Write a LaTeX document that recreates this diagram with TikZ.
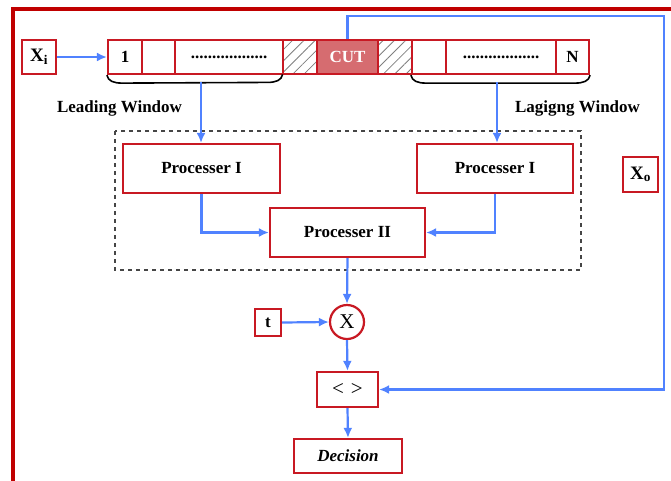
\documentclass[tikz,border=0pt]{standalone}
\usepackage{fontspec}
\setmainfont{Liberation Serif}
\usetikzlibrary{arrows.meta,patterns.meta,calc}
\definecolor{boxred}{RGB}{200,25,35}
\definecolor{framered}{RGB}{192,0,0}
\definecolor{arrblue}{RGB}{80,130,255}
\definecolor{cutfill}{RGB}{214,108,112}
\definecolor{dashgray}{RGB}{70,70,70}
\begin{document}
\begin{tikzpicture}[x=1pt,y=-1pt,
  box/.style={draw=boxred,line width=2.2pt,fill=white,inner sep=0pt,
    font=\bfseries\fontsize{17}{19}\selectfont},
  cell/.style={box,minimum height=34pt},
  hatch/.style={draw=boxred,line width=2.2pt,inner sep=0pt,minimum height=34pt,minimum width=34pt,
    pattern={Lines[angle=45,distance=8pt,line width=0.8pt]},pattern color=gray},
  arr/.style={draw=arrblue,line width=2.2pt,-{Latex[length=10pt,width=9pt]}},
  brace/.style={draw=black,line width=1.6pt},
  lbl/.style={font=\bfseries\fontsize{17}{19}\selectfont,inner sep=0pt},
  dashbox/.style={draw=dashgray,line width=2pt,dash pattern=on 4pt off 4pt}]
\useasboundingbox[fill=white] (0,0) rectangle (671,480);
% outer frame
\draw[framered,line width=4pt] (13,482) -- (13,9) -- (673,9);
% input
\node[box,minimum width=34pt,minimum height=34pt] (xi) at (39,57) {\fontsize{19}{21}\selectfont X\textsubscript{i}};
% array cells
\node[cell,minimum width=34pt] (c1) at (125,57) {1};
\node[cell,minimum width=33pt] (c2) at (158.5,57) {};
\node[cell,minimum width=108pt] (c3) at (229,57) {..................};
\node[hatch] (h1) at (300,57) {};
\node[cell,minimum width=61pt,fill=cutfill,text=white] (cut) at (347.5,57) {CUT};
\node[hatch] (h2) at (395,57) {};
\node[cell,minimum width=34pt] (c4) at (429,57) {};
\node[cell,minimum width=110pt] (c5) at (501,57) {..................};
\node[cell,minimum width=33pt] (cN) at (572.5,57) {N};
\draw[arr] (xi.east) -- (c1.west);
% braces
\draw[brace] (c1.south west) .. controls +(1,6) and +(-8,0) .. ($(c1.south west)+(15,8)$)
  -- ($(h1.south west)+(-15,8)$) .. controls +(8,0) and +(-1,6) .. (h1.south west);
\draw[brace] (c4.south west) .. controls +(1,6) and +(-8,0) .. ($(c4.south west)+(15,8)$)
  -- ($(cN.south east)+(-15,8)$) .. controls +(8,0) and +(-1,6) .. (cN.south east);
\coordinate (lb) at (201,82);
\coordinate (rb) at (497,82);
\node[lbl] (lw) at (119.5,108) {Leading Window};
\node[lbl] (gw) at (577.5,108) {Lagigng Window};
% processing block
\draw[dashbox] (115,131) rectangle (581,270);
\node[box,minimum width=157pt,minimum height=49pt] (p1l) at (201.5,168.5) {Processer I};
\node[box,minimum width=156pt,minimum height=49pt] (p1r) at (495,168.5) {Processer I};
\node[box,minimum width=155pt,minimum height=49pt] (p2) at (347.5,232.5) {Processer II};
\draw[arr] (lb) -- (lb |- p1l.north);
\draw[arr] (rb) -- (rb |- p1r.north);
\draw[arr] (p1l.south) |- (p2.west);
\draw[arr] (p1r.south) |- (p2.east);
% multiplier and decision
\node[box,circle,minimum size=34pt,font=\fontsize{21}{23}\selectfont] (mul) at (347,322) {X};
\node[box,minimum width=26pt,minimum height=27pt] (t) at (268,322.5) {t};
\node[box,minimum width=61pt,minimum height=35pt,font=\fontsize{21}{23}\selectfont] (cmp) at (347.5,389.5) {<\,\,>};
\node[box,minimum width=108pt,minimum height=34pt,font=\bfseries\itshape\fontsize{17}{19}\selectfont] (dec) at (348,456) {Decision};
\node[box,minimum width=35pt,minimum height=35pt] (xo) at (640.5,174.5) {\fontsize{19}{21}\selectfont X\textsubscript{o}};
\draw[arr] (p2.south) -- (mul.north);
\draw[arr] (t.east) -- (mul.west);
\draw[arr] (mul.south) -- (cmp.north);
\draw[arr] (cmp.south) -- (dec.north);
\coordinate (fb) at (664,16);
\draw[arr] (cut.north) |- (fb) |- (cmp.east);
\end{tikzpicture}
\end{document}
